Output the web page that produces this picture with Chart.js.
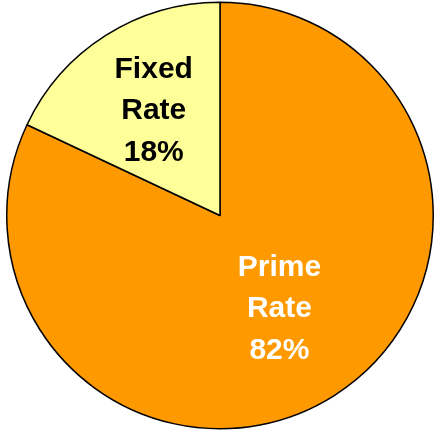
<!DOCTYPE html>
<html>
<head>
<meta charset="utf-8">
<script src="https://cdn.jsdelivr.net/npm/chart.js@4/dist/chart.umd.min.js"></script>
<style>
html,body{margin:0;padding:0;background:#fff;}
#wrap{width:434px;height:431px;position:relative;}
</style>
</head>
<body>
<div id="wrap"><canvas id="c" width="434" height="431"></canvas></div>
<script>
const categories = ["Prime Rate", "Fixed Rate"];
const labelLines = [["Prime", "Rate"], ["Fixed", "Rate"]];
const values = [82, 18];
const colors = ["#FF9900", "#FFFF99"];
const textColors = ["#FFFFFF", "#000000"];
const labelRadius = [0.52, 0.58];

const labelPlugin = {
  id: 'sliceLabels',
  afterDatasetsDraw(chart) {
    const ctx = chart.ctx;
    const meta = chart.getDatasetMeta(0);
    meta.data.forEach((arc, i) => {
      const p = arc.getProps(['x','y','startAngle','endAngle','outerRadius'], true);
      const mid = (p.startAngle + p.endAngle) / 2;
      const r = p.outerRadius * labelRadius[i];
      const cx = p.x + Math.cos(mid) * r;
      const cy = p.y + Math.sin(mid) * r;
      const lines = labelLines[i].concat([values[i] + '%']);
      const lh = 41.5;
      ctx.save();
      ctx.font = 'bold 30px "Liberation Sans", Arial, sans-serif';
      ctx.fillStyle = textColors[i];
      ctx.textAlign = 'center';
      ctx.textBaseline = 'middle';
      lines.forEach((t, k) => {
        ctx.fillText(t, cx, cy + (k - (lines.length - 1) / 2) * lh);
      });
      ctx.restore();
    });
  }
};

new Chart(document.getElementById('c'), {
  type: 'pie',
  data: {
    labels: categories,
    datasets: [{
      data: values,
      backgroundColor: colors,
      borderColor: '#000000',
      borderWidth: 1.5
    }]
  },
  options: {
    responsive: false,
    animation: false,
    layout: { padding: { left: 6, right: 0, top: 1, bottom: 1 } },
    plugins: { legend: { display: false }, tooltip: { enabled: false } }
  },
  plugins: [labelPlugin]
});
</script>
</body>
</html>
